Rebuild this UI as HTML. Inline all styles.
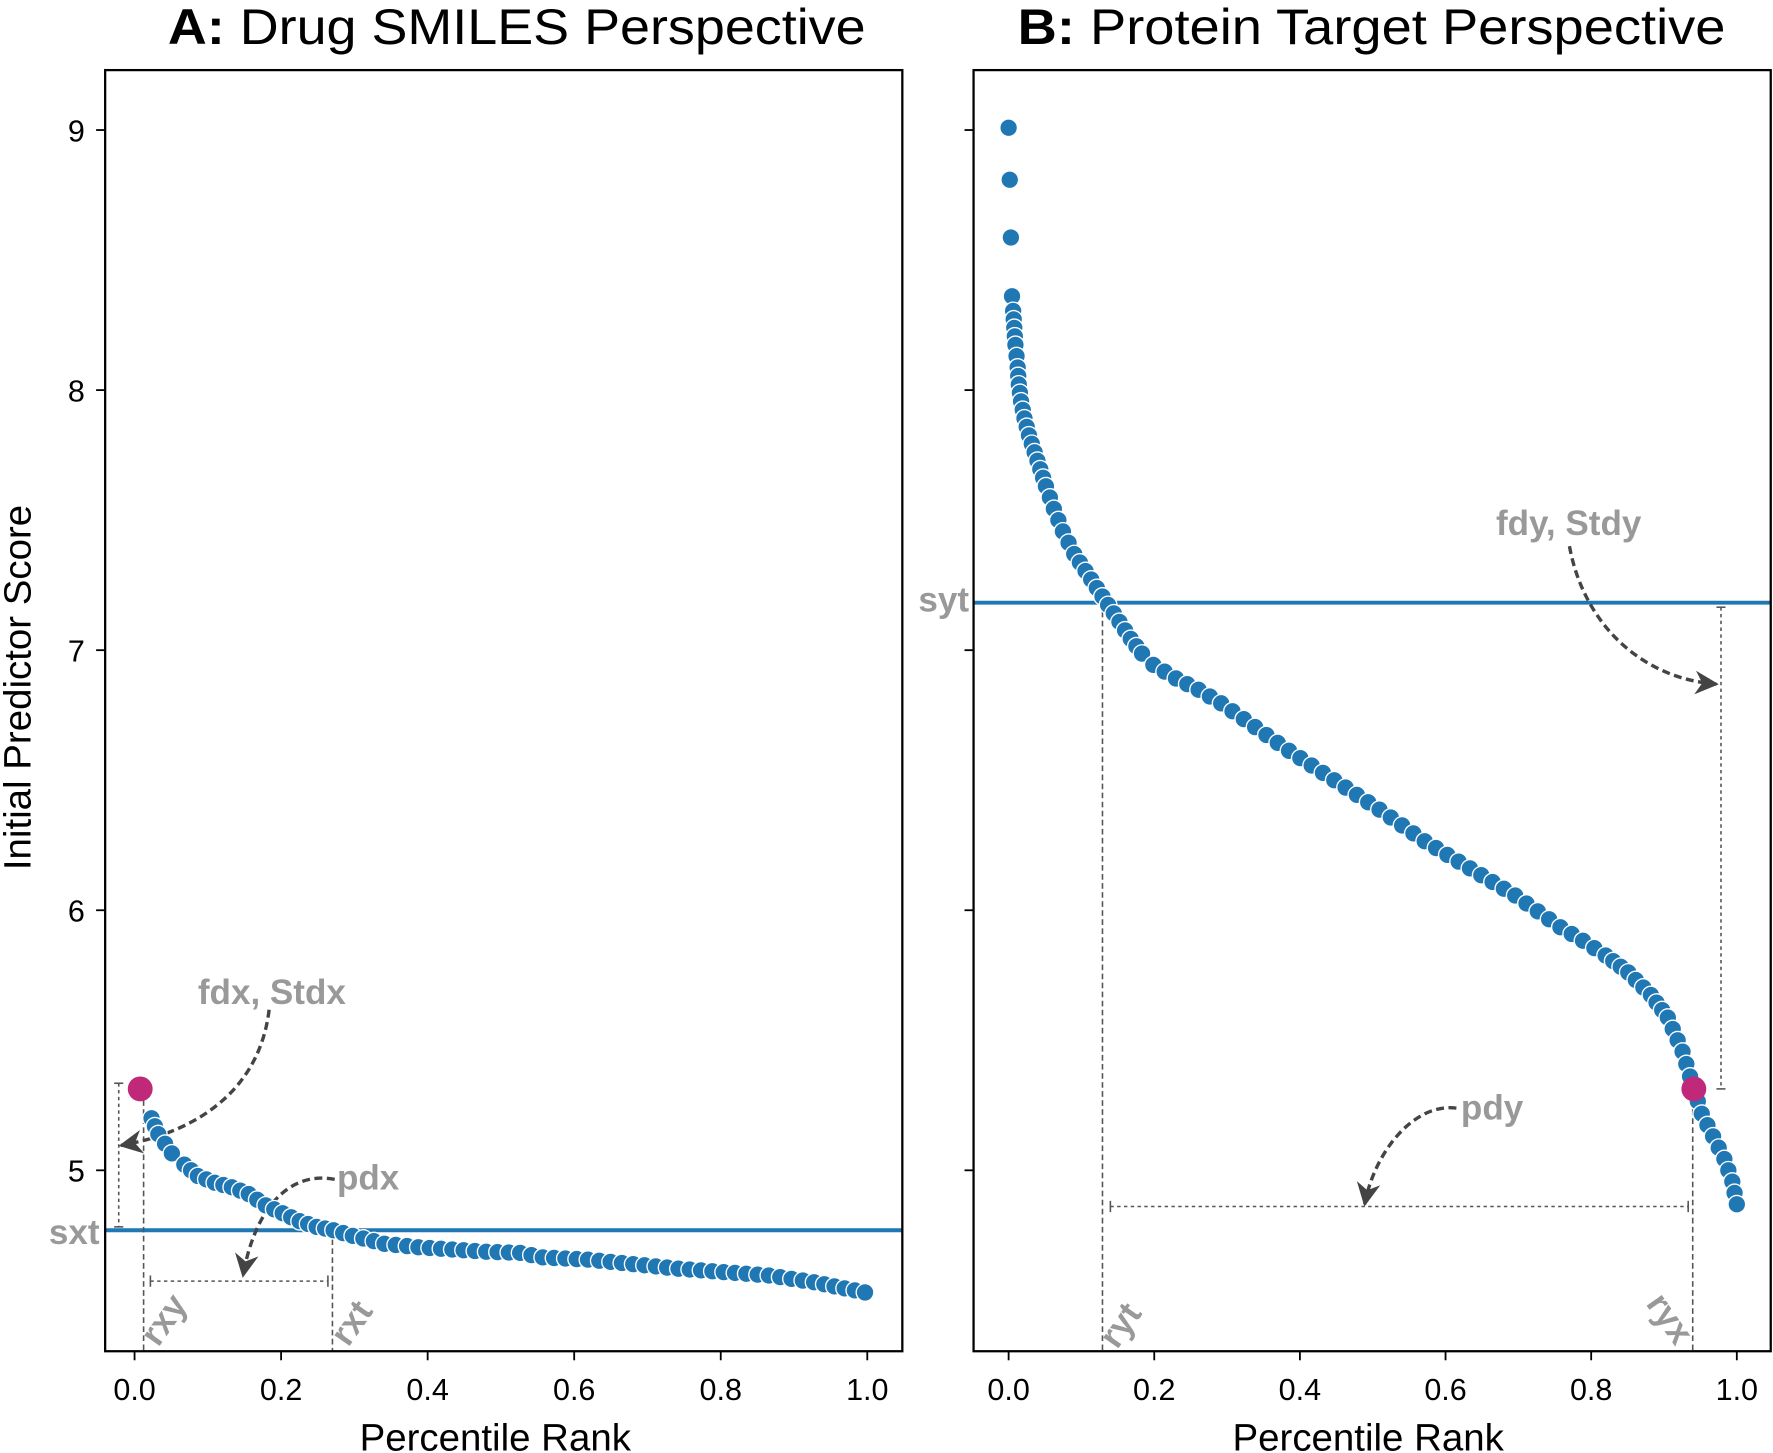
<!DOCTYPE html>
<html><head><meta charset="utf-8"><style>
html,body{margin:0;padding:0;background:#fff}
svg{display:block}
text{font-family:"Liberation Sans",sans-serif}
.g{fill:#999;font-weight:bold;font-size:31px}
.t{font-size:27px;fill:#000}
</style></head><body>
<svg id="s" width="1773" height="1453" viewBox="0 0 1568 1285" xmlns="http://www.w3.org/2000/svg">
<defs>
<marker id="ah" viewBox="0 0 10 10" refX="9" refY="5" markerWidth="7" markerHeight="7" orient="auto-start-reverse">
<path d="M0,0 L10,5 L0,10 L3,5 z" fill="#444"/></marker>
</defs>
<text x="457" y="39" text-anchor="middle" font-size="44" textLength="617" lengthAdjust="spacingAndGlyphs"><tspan font-weight="bold">A:</tspan> Drug SMILES Perspective</text>
<text x="1213" y="39" text-anchor="middle" font-size="44" textLength="626" lengthAdjust="spacingAndGlyphs"><tspan font-weight="bold">B:</tspan> Protein Target Perspective</text>
<text transform="translate(27,608) rotate(-90)" text-anchor="middle" font-size="34">Initial Predictor Score</text>
<text x="438" y="1283" text-anchor="middle" font-size="34">Percentile Rank</text>
<text x="1210" y="1283" text-anchor="middle" font-size="34">Percentile Rank</text>
<g id="ticks" stroke="#000" stroke-width="1.6"></g>
<g id="tl"></g>
<line x1="93" x2="798" y1="1088" y2="1088" stroke="#1f77b4" stroke-width="3.5"/>
<line x1="861" x2="1566" y1="533" y2="533" stroke="#1f77b4" stroke-width="3.5"/>
<g stroke="#555" stroke-width="1.4" fill="none">
<line x1="127" y1="965" x2="127" y2="1195" stroke-dasharray="5,3"/>
<line x1="294" y1="1088" x2="294" y2="1195" stroke-dasharray="5,3"/>
<line x1="105" y1="958" x2="105" y2="1085" stroke-dasharray="3,3"/>
<line x1="101" y1="958" x2="109" y2="958"/><line x1="101" y1="1085" x2="109" y2="1085"/>
<line x1="133" y1="1133" x2="290" y2="1133" stroke-dasharray="3,3"/>
<line x1="133" y1="1128" x2="133" y2="1138"/><line x1="290" y1="1128" x2="290" y2="1138"/>
<line x1="975" y1="533" x2="975" y2="1195" stroke-dasharray="5,3"/>
<line x1="1497" y1="965" x2="1497" y2="1195" stroke-dasharray="5,3"/>
<line x1="1522" y1="537" x2="1522" y2="963" stroke-dasharray="3,3"/>
<line x1="1518" y1="537" x2="1526" y2="537"/><line x1="1518" y1="963" x2="1526" y2="963"/>
<line x1="982" y1="1067" x2="1493" y2="1067" stroke-dasharray="3,3"/>
<line x1="982" y1="1062" x2="982" y2="1072"/><line x1="1493" y1="1062" x2="1493" y2="1072"/>
</g>
<g stroke="#444" stroke-width="3" fill="none" stroke-dasharray="7,4" marker-end="url(#ah)">
<path d="M238,893 C230,960 180,1000 107,1013"/>
<path d="M296,1043 C255,1035 225,1070 215,1128"/>
<path d="M1388,483 C1400,550 1450,600 1518,605"/>
<path d="M1288,980 C1250,975 1215,1020 1207,1065"/>
</g>
<text class="g" x="88" y="1100" text-anchor="end">sxt</text>
<text class="g" x="175" y="888">fdx, Stdx</text>
<text class="g" x="298" y="1052">pdx</text>
<text class="g" x="857" y="541" text-anchor="end">syt</text>
<text class="g" x="1323" y="473">fdy, Stdy</text>
<text class="g" x="1292" y="990">pdy</text>
<text class="g" transform="translate(140,1192) rotate(-55)">rxy</text>
<text class="g" transform="translate(308,1192) rotate(-55)">rxt</text>
<text class="g" transform="translate(988,1194) rotate(-55)">ryt</text>
<text class="g" transform="translate(1455,1153) rotate(55)">ryx</text>
<g id="pts"></g>
<circle cx="124" cy="963" r="11" fill="#c0287a"/>
<circle cx="1498" cy="963" r="11" fill="#c0287a"/>
<rect x="93" y="62" width="705" height="1133" fill="none" stroke="#000" stroke-width="2"/>
<rect x="861" y="62" width="705" height="1133" fill="none" stroke="#000" stroke-width="2"/>
</svg>
<script>
var NS="http://www.w3.org/2000/svg";
function el(p,t,a,txt){var e=document.createElementNS(NS,t);for(var k in a)e.setAttribute(k,a[k]);if(txt)e.textContent=txt;document.getElementById(p).appendChild(e);}
var labs=["0.0","0.2","0.4","0.6","0.8","1.0"];
for(var i=0;i<6;i++){
 var xa=119+648*i/5, xb=892+644*i/5;
 el("ticks","line",{x1:xa,x2:xa,y1:1195,y2:1203});
 el("ticks","line",{x1:xb,x2:xb,y1:1195,y2:1203});
 el("tl","text",{x:xa,y:1238,"text-anchor":"middle","class":"t"},labs[i]);
 el("tl","text",{x:xb,y:1238,"text-anchor":"middle","class":"t"},labs[i]);
}
for(var v=5;v<=9;v++){
 var y=115+(9-v)*230;
 el("ticks","line",{x1:85,x2:93,y1:y,y2:y});
 el("ticks","line",{x1:853,x2:861,y1:y,y2:y});
 el("tl","text",{x:75,y:y+10,"text-anchor":"end","class":"t"},""+v);
}
function interp(pts,n){var out=[];for(var i=0;i<pts.length-1;i++){var a=pts[i],b=pts[i+1];var d=Math.hypot(b[0]-a[0],b[1]-a[1]);var k=Math.max(1,Math.round(d/n));for(var j=0;j<k;j++){var t=j/k;out.push([a[0]+(b[0]-a[0])*t,a[1]+(b[1]-a[1])*t]);}}out.push(pts[pts.length-1]);return out;}
var A=[[134,989],[140,1003],[152,1020],[163,1030],[175,1040],[190,1046],[205,1050],[220,1056],[235,1066],[250,1073],[265,1080],[280,1085],[295,1088],[312,1093],[340,1100],[370,1103],[400,1105],[430,1107],[460,1108],[480,1112],[520,1114],[560,1118],[600,1122],[640,1125],[680,1128],[720,1134],[765,1143]];
var B=[[892,113],[893,159],[894,210],[895,262],[896,275],[897,290],[898,305],[900,325],[901,340],[903,355],[906,370],[910,385],[915,400],[920,415],[925,430],[932,450],[940,470],[950,490],[960,505],[970,520],[980,535],[990,550],[1000,565],[1010,578],[1020,588],[1040,600],[1060,610],[1080,622],[1100,636],[1120,650],[1140,664],[1160,677],[1180,690],[1200,703],[1220,716],[1240,730],[1260,744],[1280,756],[1300,768],[1320,780],[1340,792],[1360,806],[1380,820],[1400,832],[1420,845],[1440,860],[1460,880],[1475,900],[1488,930],[1498,963],[1505,985],[1515,1005],[1525,1025],[1532,1045],[1536,1065]];
var pa=interp(A,10), pb=B.slice(0,3).concat(interp(B.slice(3),10));
pa.concat(pb).forEach(function(p){el("pts","circle",{cx:p[0],cy:p[1],r:7.8,fill:"#1f77b4",stroke:"#fff","stroke-width":1.2});});
</script>
</body></html>
